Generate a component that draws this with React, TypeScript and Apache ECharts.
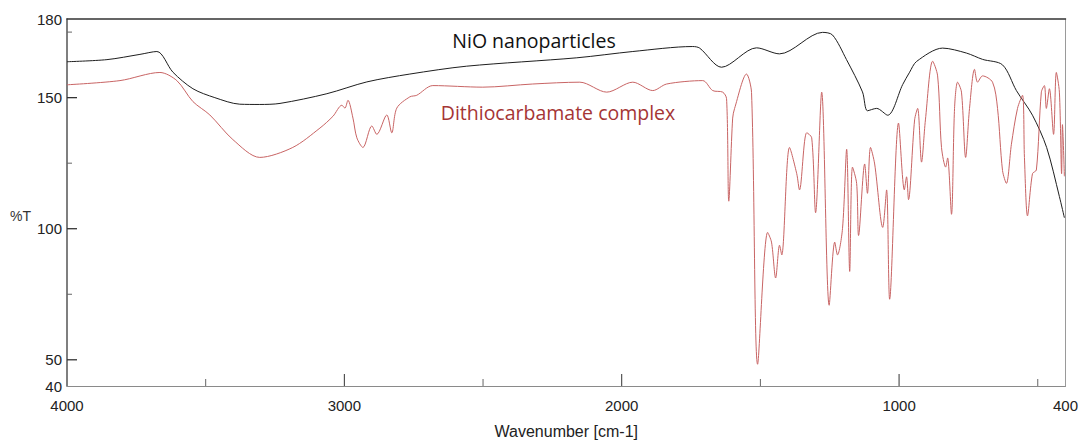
import React, { useEffect, useRef } from "react";
import * as echarts from "echarts";

const nioWavenumbers = [4000, 3856, 3737, 3676, 3618, 3546, 3467, 3377, 3305, 3232, 3063, 2919, 2764, 2559, 2162, 1960, 1744, 1719, 1640, 1514, 1431, 1276, 1240, 1190, 1132, 1114, 1081, 1041, 987, 962, 937, 843, 757, 699, 627, 577, 519, 468, 422, 404];
const nioTransmittance = [163.7, 164.5, 166.5, 167.6, 159.7, 153.4, 150, 147.5, 147.4, 147.8, 151.5, 156, 159, 162, 165.2, 167.6, 169.5, 168.9, 161.6, 169, 166.7, 174.9, 173.9, 164.6, 152.2, 145, 145.9, 143.3, 155, 159.7, 163.8, 168.9, 167, 164.6, 162.5, 152.7, 143.3, 131, 112.3, 104.2];

const dtcWavenumbers = [4000, 3809, 3665, 3604, 3546, 3485, 3402, 3305, 3186, 3088, 3041, 3009, 2998, 2987, 2969, 2955, 2933, 2901, 2883, 2847, 2829, 2811, 2764, 2739, 2681, 2501, 2321, 2151, 2054, 1960, 1888, 1838, 1708, 1672, 1636, 1622, 1614, 1600, 1593, 1550, 1532, 1510, 1474, 1460, 1445, 1431, 1423, 1395, 1369, 1359, 1333, 1315, 1301, 1279, 1252, 1232, 1222, 1204, 1189, 1178, 1168, 1153, 1146, 1124, 1114, 1103, 1088, 1059, 1045, 1034, 1002, 981, 973, 966, 944, 933, 919, 905, 879, 861, 847, 832, 825, 811, 800, 789, 775, 760, 746, 728, 717, 699, 663, 645, 627, 613, 595, 573, 555, 548, 537, 519, 505, 487, 476, 469, 458, 443, 433, 422, 414, 411, 404];
const dtcTransmittance = [154.9, 156.5, 159.6, 156.5, 148.5, 143.4, 134, 127.2, 131, 138.4, 142.9, 147.1, 146, 149, 142.2, 134.7, 131, 139.2, 136, 143.4, 136.6, 146, 150.3, 150.9, 154.6, 154, 155.2, 155.9, 152.1, 155.9, 152.7, 155.2, 156.5, 152.7, 152.1, 149.6, 110.5, 142.2, 145.9, 159, 152, 48.3, 98.6, 94.9, 81.2, 93.7, 90, 131, 121, 114.8, 136.6, 134.7, 106.1, 152.1, 70.8, 94.9, 90, 100, 130.3, 83.7, 123.5, 117.3, 97.4, 124.7, 113.5, 131, 124.7, 100.5, 114.8, 73.1, 140.3, 114.8, 119.8, 111.1, 141.5, 145.9, 125.4, 141.5, 163.9, 158.3, 131, 123.5, 127, 105.5, 145.9, 155.9, 152.1, 127.2, 145.9, 160.8, 155.9, 158.3, 155.9, 145.9, 122.2, 117.3, 132.2, 145.9, 150.9, 127.2, 104.9, 121, 122.4, 152.1, 154.6, 145.9, 153.4, 136, 159.6, 152.1, 121, 139.7, 120];

const xLabelValues = [4000, 3000, 2000, 1000, 400];
const xMajorTicks = [3000, 2000, 1000];
const xMinorTicks = [3500, 2500, 1500, 500];
const yLabelValues = [40, 50, 100, 150, 180];
const yMajorTicks = [50, 100, 150];
const yMinorTicks = [75, 125, 175];

const seriesNames = ["NiO nanoparticles", "Dithiocarbamate complex"];

const X_MIN = 400;
const X_MAX = 4000;
const Y_MIN = 40;
const Y_MAX = 180;

export default function App() {
  const ref = useRef<HTMLDivElement>(null);
  useEffect(() => {
    document.body.style.margin = "0";
    if (!ref.current) return;
    const chart = echarts.init(ref.current, null, { renderer: "svg" });
    const nioData = nioWavenumbers.map((w, i) => [w, nioTransmittance[i]]);
    const dtcData = dtcWavenumbers.map((w, i) => [w, dtcTransmittance[i]]);
    const font = "Liberation Sans";
    const hidden = { show: false };

    // tick data: [x, y, isMajor, isYAxisTick]
    const tickData = [
      ...xMajorTicks.map((v) => [v, Y_MIN, 1, 0]),
      ...xMinorTicks.map((v) => [v, Y_MIN, 0, 0]),
      ...yMajorTicks.map((v) => [X_MAX, v, 1, 1]),
      ...yMinorTicks.map((v) => [X_MAX, v, 0, 1]),
    ];

    chart.setOption({
      animation: false,
      backgroundColor: "#ffffff",
      grid: { left: 67, top: 19, width: 999, height: 375, show: false },
      xAxis: [
        {
          type: "value", inverse: true, min: X_MIN, max: X_MAX, position: "bottom", splitLine: hidden,
          axisLine: { show: true, onZero: false, lineStyle: { color: "#8a8a8a", width: 1 } },
          axisTick: hidden,
          axisLabel: { show: true, customValues: xLabelValues, formatter: (v: number) => String(v), color: "#222", fontSize: 15, fontFamily: font, margin: 12 },
          name: "Wavenumber [cm-1]", nameLocation: "middle", nameGap: 37,
          nameTextStyle: { color: "#222", fontSize: 16, fontFamily: font },
        },
        {
          type: "value", inverse: true, min: X_MIN, max: X_MAX, position: "top", splitLine: hidden,
          axisLine: { show: true, onZero: false, lineStyle: { color: "#333", width: 1.5 } },
          axisTick: hidden, axisLabel: hidden,
        },
      ],
      yAxis: [
        {
          type: "value", min: Y_MIN, max: Y_MAX, position: "left", splitLine: hidden,
          axisLine: { show: true, onZero: false, lineStyle: { color: "#555", width: 1.5 } },
          axisTick: hidden,
          axisLabel: { show: true, customValues: yLabelValues, formatter: (v: number) => String(v), color: "#222", fontSize: 15, fontFamily: font, margin: 5 },
        },
        {
          type: "value", min: Y_MIN, max: Y_MAX, position: "right", splitLine: hidden,
          axisLine: { show: true, onZero: false, lineStyle: { color: "#9a9a9a", width: 1 } },
          axisTick: hidden, axisLabel: hidden,
        },
      ],
      series: [
        {
          name: seriesNames[0], type: "line", xAxisIndex: 0, yAxisIndex: 0,
          data: nioData, showSymbol: false, smooth: 0.3,
          lineStyle: { color: "#1e1e1e", width: 1 },
        },
        {
          name: seriesNames[1], type: "line", xAxisIndex: 0, yAxisIndex: 0,
          data: dtcData, showSymbol: false, smooth: 0.3,
          lineStyle: { color: "#c86464", width: 1 },
        },
        {
          name: "ticks", type: "custom", xAxisIndex: 0, yAxisIndex: 0, silent: true, clip: false,
          data: tickData, encode: { x: 0, y: 1 },
          renderItem: (_params: any, api: any) => {
            const p = api.coord([api.value(0), api.value(1)]);
            const major = api.value(2) === 1;
            const isY = api.value(3) === 1;
            const len = isY ? (major ? 10 : 5) : (major ? 12 : 7);
            return {
              type: "line",
              shape: isY
                ? { x1: p[0], y1: p[1], x2: p[0] + len, y2: p[1] }
                : { x1: p[0], y1: p[1], x2: p[0], y2: p[1] - len },
              style: { stroke: major ? "#333" : "#666", lineWidth: isY && major ? 1.3 : 1 },
            };
          },
        },
      ],
      graphic: [
        {
          type: "text", x: 534, y: 40,
          style: { text: seriesNames[0], fill: "#111", font: '19.5px "Open Sans"', textAlign: "center", textVerticalAlign: "middle" },
        },
        {
          type: "text", x: 558, y: 112,
          style: { text: seriesNames[1], fill: "#a53535", font: '19.5px "Open Sans"', textAlign: "center", textVerticalAlign: "middle" },
        },
        {
          type: "text", x: 10, y: 216,
          style: { text: "%T", fill: "#333", font: '14px "Liberation Sans"', textAlign: "left", textVerticalAlign: "middle" },
        },
      ],
    });
    return () => chart.dispose();
  }, []);
  return <div ref={ref} style={{ width: 1081, height: 444 }} />;
}
